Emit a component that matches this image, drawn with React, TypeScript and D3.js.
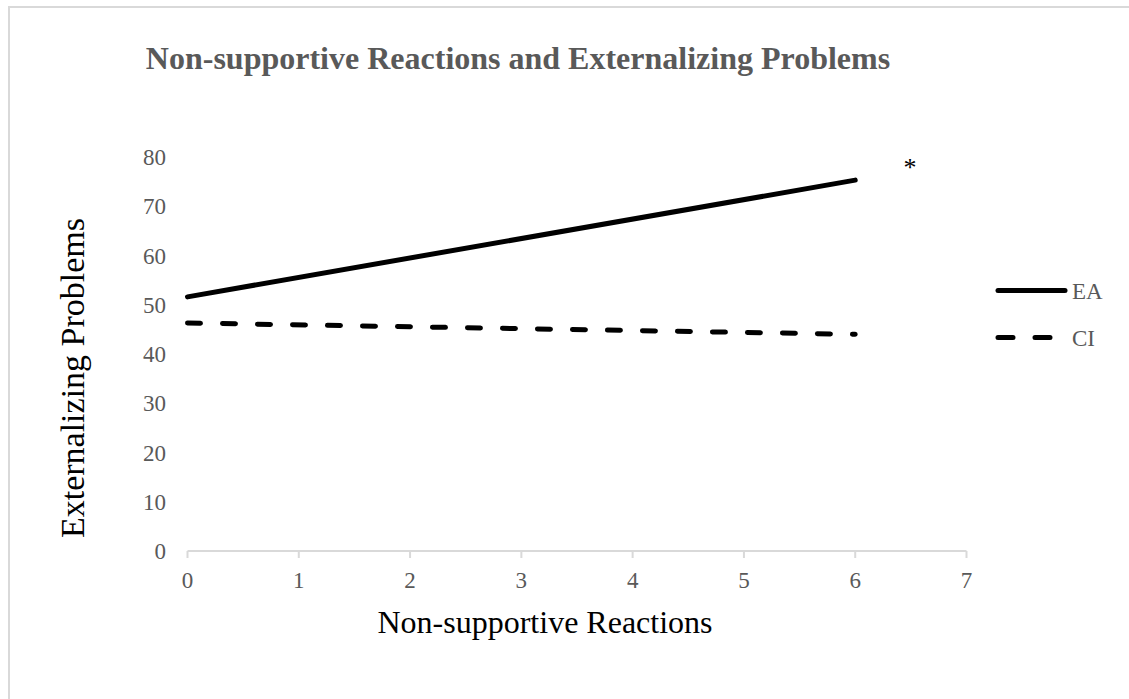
import React from "react";
import * as d3 from "d3";

const xValues = [0, 6];
const eaValues = [51.6, 75.3];
const ciValues = [46.3, 44.0];
const seriesNames = ["EA", "CI"];
const xTicks = [0, 1, 2, 3, 4, 5, 6, 7];
const yTicks = [0, 10, 20, 30, 40, 50, 60, 70, 80];

const W = 1129;
const H = 699;

export default function App() {
  const x = d3.scaleLinear().domain([0, 7]).range([187.5, 966.5]);
  const y = d3.scaleLinear().domain([0, 80]).range([551, 157]);
  const line = d3
    .line<[number, number]>()
    .x((d) => x(d[0]))
    .y((d) => y(d[1]));
  const ea = xValues.map((v, i) => [v, eaValues[i]] as [number, number]);
  const ci = xValues.map((v, i) => [v, ciValues[i]] as [number, number]);
  const serif = "'Liberation Serif', 'Times New Roman', serif";
  const grey = "#595959";
  const axisColor = "#d9d9d9";

  return (
    <svg
      width={W}
      height={H}
      style={{ position: "absolute", left: 0, top: 0, background: "#fff" }}
      fontFamily={serif}
    >
      <rect x={0} y={0} width={W} height={H} fill="#fff" />
      <path d={`M9,${H + 5}V7H${W + 5}`} fill="none" stroke={axisColor} strokeWidth={2} />
      <text x={518} y={69} textAnchor="middle" fontSize={32} fontWeight="bold" fill={grey}>
        Non-supportive Reactions and Externalizing Problems
      </text>

      {/* y tick labels */}
      {yTicks.map((t) => (
        <text key={t} x={166} y={y(t)} dy="0.35em" textAnchor="end" fontSize={23} fill={grey}>
          {t}
        </text>
      ))}

      {/* x axis */}
      <line x1={x(0)} x2={x(7)} y1={y(0)} y2={y(0)} stroke={axisColor} strokeWidth={2} />
      {xTicks.map((t) => (
        <g key={t}>
          <line x1={x(t)} x2={x(t)} y1={y(0)} y2={y(0) + 7} stroke={axisColor} strokeWidth={2} />
          <text x={x(t)} y={580} dy="0.35em" textAnchor="middle" fontSize={23} fill={grey}>
            {t}
          </text>
        </g>
      ))}

      {/* series */}
      <path d={line(ea) || ""} fill="none" stroke="#000" strokeWidth={5} strokeLinecap="round" />
      <path
        d={line(ci) || ""}
        fill="none"
        stroke="#000"
        strokeWidth={5}
        strokeLinecap="round"
        strokeDasharray="13,22"
      />
      <text x={910} y={176} textAnchor="middle" fontSize={26} fill="#000">
        *
      </text>

      {/* axis titles */}
      <text
        transform={`translate(84,378) rotate(-90)`}
        textAnchor="middle"
        fontSize={34}
        fill="#000"
      >
        Externalizing Problems
      </text>
      <text x={545} y={633} textAnchor="middle" fontSize={32} fill="#000">
        Non-supportive Reactions
      </text>

      {/* legend */}
      {seriesNames.map((name, i) => {
        const ly = 290.5 + i * 47;
        return (
          <g key={name}>
            <line
              x1={998}
              x2={1065}
              y1={ly}
              y2={ly}
              stroke="#000"
              strokeWidth={5}
              strokeLinecap="round"
              strokeDasharray={i === 1 ? "15,22" : undefined}
            />
            <text x={1072} y={ly} dy="0.35em" fontSize={23} fill={grey}>
              {name}
            </text>
          </g>
        );
      })}
    </svg>
  );
}
